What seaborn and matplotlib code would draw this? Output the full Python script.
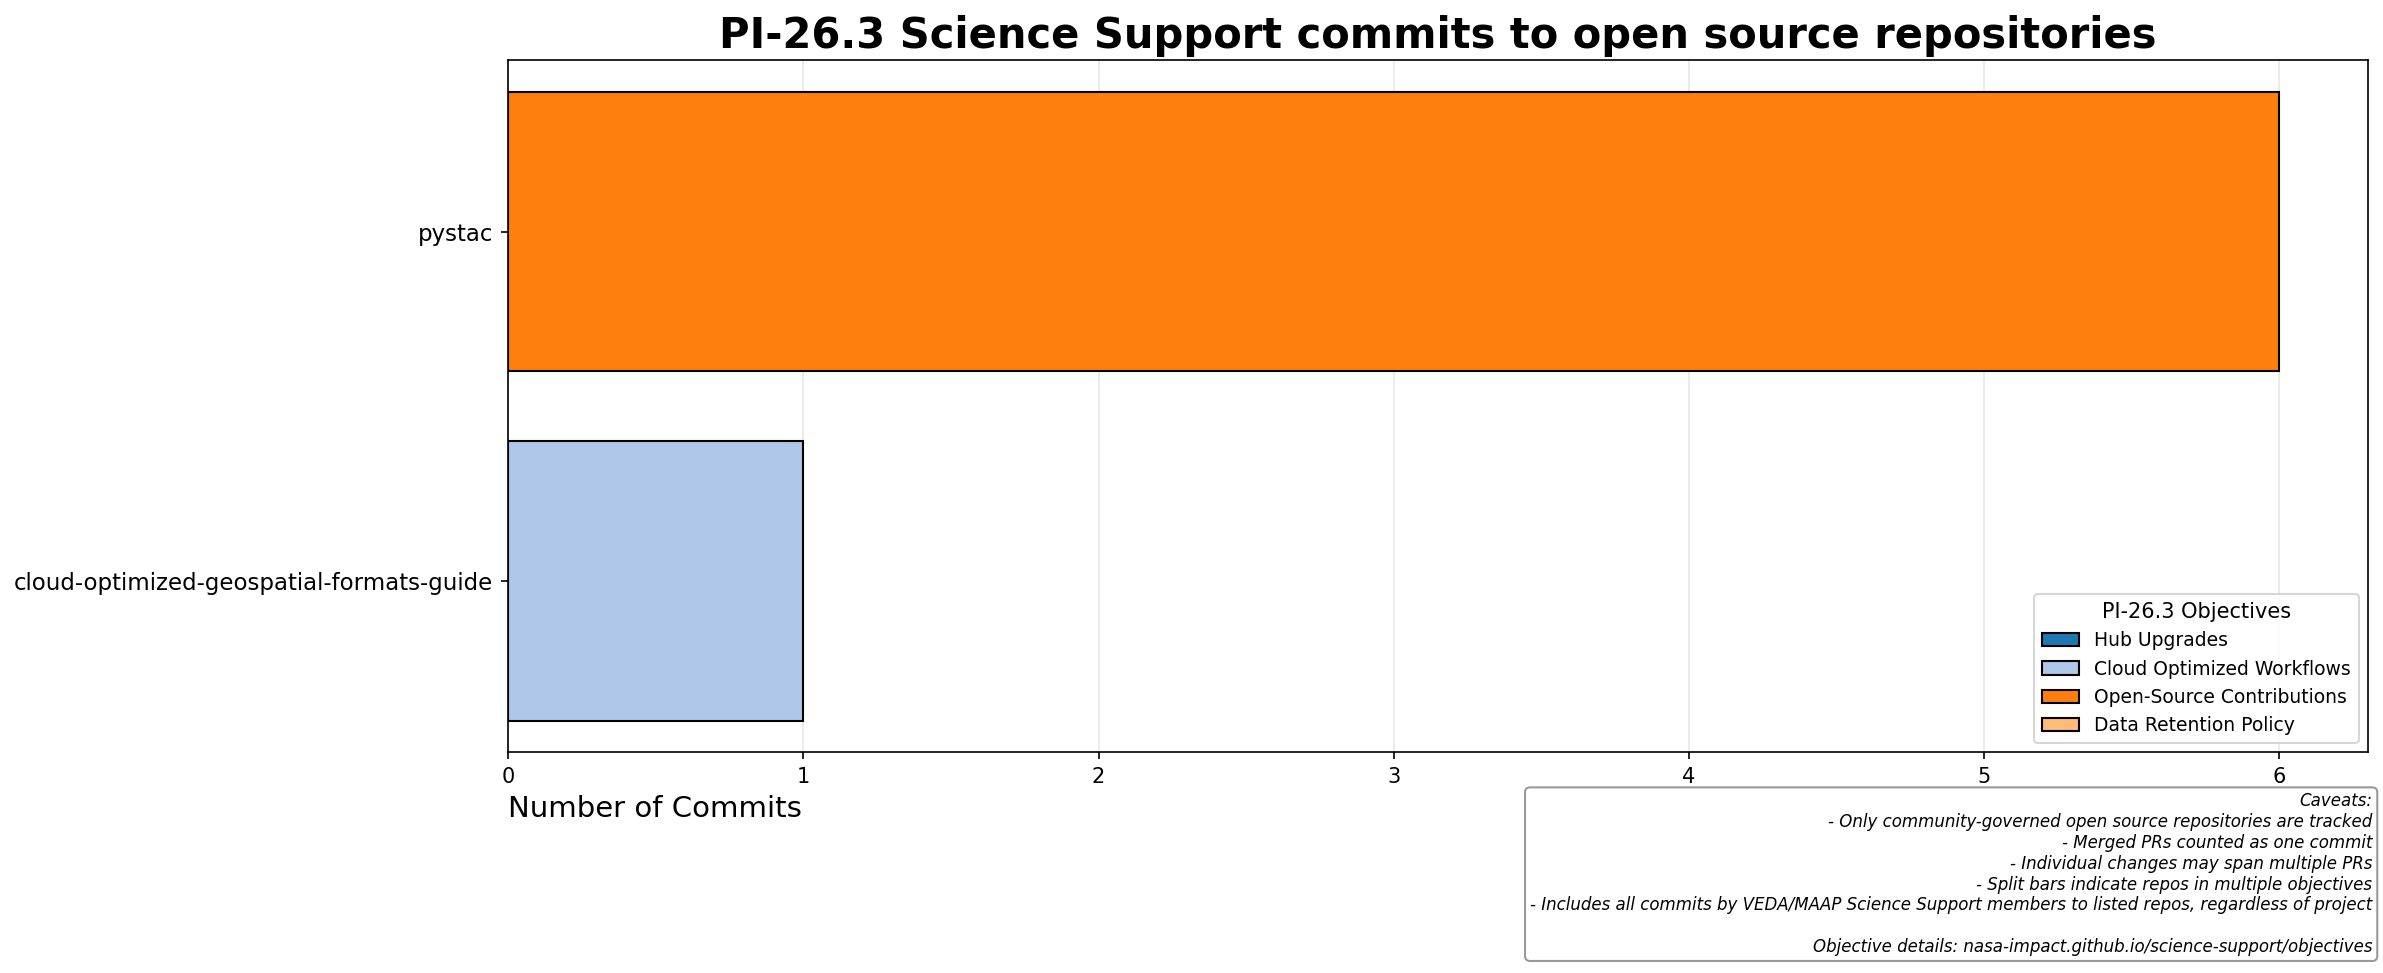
import pandas as pd
import seaborn as sns
import matplotlib.pyplot as plt
from matplotlib.patches import Patch

repos = ['pystac', 'cloud-optimized-geospatial-formats-guide']
commits = [6, 1]
repo_objectives = ['Open-Source Contributions', 'Cloud Optimized Workflows']

objectives = ['Hub Upgrades', 'Cloud Optimized Workflows',
              'Open-Source Contributions', 'Data Retention Policy']
objective_colors = ['#1f77b4', '#aec7e8', '#ff7f0e', '#ffbb78']

caveats = ("Caveats:\n"
           "- Only community-governed open source repositories are tracked\n"
           "- Merged PRs counted as one commit\n"
           "- Individual changes may span multiple PRs\n"
           "- Split bars indicate repos in multiple objectives\n"
           "- Includes all commits by VEDA/MAAP Science Support members to listed repos, regardless of project\n"
           "\n"
           "Objective details: nasa-impact.github.io/science-support/objectives")

df = pd.DataFrame({'repo': repos, 'commits': commits, 'objective': repo_objectives})
palette = dict(zip(objectives, objective_colors))

fig = plt.figure(figsize=(2383 / 150, 973 / 150), dpi=150)
ax = fig.add_axes([0.2132, 0.227, 0.7805, 0.711])

sns.barplot(data=df, x='commits', y='repo', hue='objective', palette=palette,
            dodge=False, edgecolor='black', linewidth=1, legend=False, ax=ax,
            saturation=1)

ax.set_xlim(0, 6.3)
ax.set_ylim(1.49, -0.49)
ax.grid(axis='x', alpha=0.3)
ax.set_axisbelow(True)
ax.set_ylabel('')
ax.set_xlabel('Number of Commits', fontsize=14, loc='left')
ax.tick_params(axis='y', labelsize=11)
ax.tick_params(axis='x', labelsize=10)
ax.set_title('PI-26.3 Science Support commits to open source repositories',
             fontsize=20, fontweight='bold')

handles = [Patch(facecolor=c, edgecolor='black', label=o)
           for o, c in zip(objectives, objective_colors)]
ax.legend(handles=handles, title='PI-26.3 Objectives', loc='lower right',
          fontsize=9, title_fontsize=10)

fig.text(0.9955, 0.0175, caveats, ha='right', va='bottom', fontsize=8,
         style='italic',
         bbox=dict(boxstyle='round', facecolor='white', edgecolor='gray', alpha=0.8))

fig.savefig('out.png', dpi=150)
